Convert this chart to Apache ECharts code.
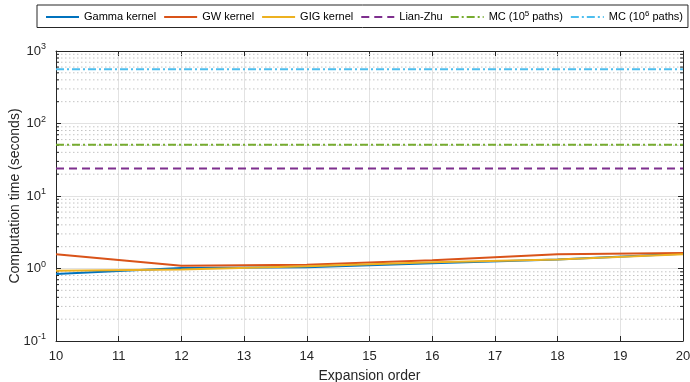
<!DOCTYPE html>
<html>
<head>
<meta charset="utf-8">
<script src="https://cdn.jsdelivr.net/npm/echarts@6/dist/echarts.min.js"></script>
<style>html,body{margin:0;padding:0;background:#fff;}#c{width:690px;height:382px;}</style>
</head>
<body>
<div id="c"></div>
<script>
const orders = [10, 12, 14, 16, 18, 20];
const gammaKernel = [0.84, 1.02, 1.04, 1.18, 1.33, 1.60];
const gwKernel = [1.57, 1.09, 1.13, 1.30, 1.57, 1.64];
const gigKernel = [0.93, 0.97, 1.07, 1.22, 1.33, 1.57];
const lianZhu = [24, 24, 24, 24, 24, 24];
const mc5 = [51, 51, 51, 51, 51, 51];
const mc6 = [560, 560, 560, 560, 560, 560];
const xTicks = [10, 11, 12, 13, 14, 15, 16, 17, 18, 19, 20];
const yTicks = [0.1, 1, 10, 100, 1000];
const minorTicks = [0.2,0.3,0.4,0.5,0.6,0.7,0.8,0.9, 2,3,4,5,6,7,8,9, 20,30,40,50,60,70,80,90, 200,300,400,500,600,700,800,900];

const FONT = '"Liberation Sans", Arial, sans-serif';
const AX = '#262626';
const pair = (ys) => orders.map((x, i) => [x, ys[i]]);

const chart = echarts.init(document.getElementById('c'), null, {renderer: 'canvas'});

function lineSeries(name, ys, color, type) {
  return {
    name, type: 'line', data: pair(ys), symbol: 'none', showSymbol: false, z: 5,
    lineStyle: {color, width: 2, type: type || 'solid'},
    itemStyle: {color}
  };
}

const option = {
  animation: false,
  textStyle: {fontFamily: FONT},
  grid: {left: 56, right: 7, top: 51, bottom: 41, show: false, outerBoundsMode: 'none', containLabel: false},
  legend: {
    data: ['Gamma kernel', 'GW kernel', 'GIG kernel', 'Lian-Zhu', 'MC5', 'MC6'],
    left: 37, top: 5,
    padding: [5, 5, 5, 8],
    borderColor: AX, borderWidth: 1,
    itemWidth: 33, itemHeight: 12, itemGap: 7,
    itemStyle: {opacity: 0},
    textStyle: {fontFamily: FONT, fontSize: 11, color: '#000',
      rich: {s: {fontSize: 8, verticalAlign: 'top', padding: [0,0,6,0], fontFamily: FONT, color: '#000'},
             t: {fontSize: 11, fontFamily: FONT, color: '#000'}}},
    formatter: function (n) {
      if (n === 'MC5') return '{t|MC (10}{s|5}{t| paths)}';
      if (n === 'MC6') return '{t|MC (10}{s|6}{t| paths)}';
      return n;
    }
  },
  xAxis: [{
    type: 'value', min: 10, max: 20, interval: 1, position: 'bottom',
    name: 'Expansion order', nameLocation: 'middle', nameGap: 28, nameMoveOverlap: false,
    nameTextStyle: {fontFamily: FONT, fontSize: 14, color: '#262626'},
    axisLine: {show: true, lineStyle: {color: AX, width: 1}},
    axisTick: {show: true, inside: true, length: 5, lineStyle: {color: AX}},
    axisLabel: {fontFamily: FONT, fontSize: 13, color: '#262626', margin: 9,
      formatter: v => xTicks.includes(v) ? String(v) : ''},
    splitLine: {show: true, lineStyle: {color: '#e2e2e2', width: 1}}
  }, {
    type: 'value', min: 10, max: 20, interval: 1, position: 'top',
    axisLine: {show: true, lineStyle: {color: AX, width: 1}},
    axisTick: {show: true, inside: true, length: 5, lineStyle: {color: AX}},
    axisLabel: {show: false}, splitLine: {show: false}
  }],
  yAxis: [{
    type: 'log', logBase: 10, min: 0.1, max: 1000, position: 'left',
    name: 'Computation time (seconds)', nameLocation: 'middle', nameGap: 34, nameMoveOverlap: false,
    nameTextStyle: {fontFamily: FONT, fontSize: 14, color: '#262626'},
    axisLine: {show: true, lineStyle: {color: AX, width: 1}},
    axisTick: {show: true, inside: true, length: 5, lineStyle: {color: AX}},
    axisLabel: {
      margin: 10, color: '#262626',
      formatter: function (v) {
        const e = Math.round(Math.log10(v));
        return '{b|10}{s|' + e + '}';
      },
      rich: {
        b: {fontFamily: FONT, fontSize: 13, color: '#262626'},
        s: {fontFamily: FONT, fontSize: 9, color: '#262626', verticalAlign: 'top', padding: [0, 0, 8, 0]}
      }
    },
    splitLine: {show: true, lineStyle: {color: '#e2e2e2', width: 1}}
  }, {
    type: 'log', logBase: 10, min: 0.1, max: 1000, position: 'right',
    axisLine: {show: true, lineStyle: {color: AX, width: 1}},
    axisTick: {show: true, inside: true, length: 5, lineStyle: {color: AX}},
    axisLabel: {show: false}, splitLine: {show: false}
  }],
  series: [
    {
      name: 'minor', type: 'custom', z: 1, silent: true,
      data: minorTicks.map(v => [10, v]),
      renderItem: function (params, api) {
        const v = api.value(1);
        const a = api.coord([10, v]);
        const b = api.coord([20, v]);
        return {
          type: 'group',
          children: [
            {type: 'line', shape: {x1: a[0] + 1, y1: a[1], x2: b[0] - 1, y2: b[1]},
             style: {stroke: '#c4c4c4', lineWidth: 1, lineDash: [1.5, 2.5]}},
            {type: 'line', shape: {x1: a[0], y1: a[1], x2: a[0] + 3, y2: a[1]},
             style: {stroke: AX, lineWidth: 1}},
            {type: 'line', shape: {x1: b[0] - 3, y1: b[1], x2: b[0], y2: b[1]},
             style: {stroke: AX, lineWidth: 1}}
          ]
        };
      }
    },
    lineSeries('Gamma kernel', gammaKernel, '#0072BD'),
    lineSeries('GW kernel', gwKernel, '#D95319'),
    lineSeries('GIG kernel', gigKernel, '#EDB120'),
    lineSeries('Lian-Zhu', lianZhu, '#7E2F8E', [8, 5]),
    lineSeries('MC5', mc5, '#77AC30', [8, 3, 2, 3]),
    lineSeries('MC6', mc6, '#4DBEEE', [8, 3, 2, 3])
  ]
};
chart.setOption(option);
</script>
</body>
</html>
